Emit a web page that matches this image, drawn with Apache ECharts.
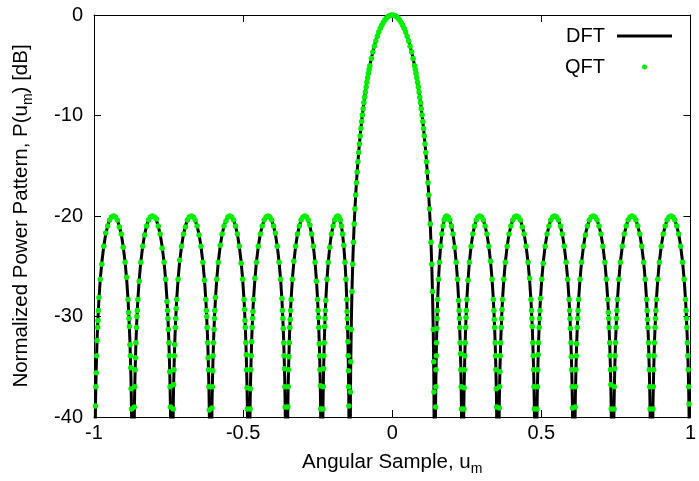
<!DOCTYPE html>
<html>
<head>
<meta charset="utf-8">
<script src="https://cdn.jsdelivr.net/npm/echarts@6/dist/echarts.min.js"></script>
<style>html,body{margin:0;padding:0;background:#fff;}#chart{width:699px;height:481px;}</style>
</head>
<body>
<div id="chart"></div>
<script>
// Angular samples u_m (nulls dip below the -40 dB floor)
const uSample = [
-1.0,
-0.9952,-0.9939,-0.9926,-0.9913,-0.9900,-0.9880,-0.9867,-0.9854,-0.9835,-0.9789,-0.9737,-0.9672,-0.9607,-0.9542,-0.9477,-0.9412,-0.9347,-0.9282,-0.9217,-0.9152,-0.9087,-0.9022,-0.8957,-0.8905,-0.8859,-0.8840,-0.8827,-0.8814,-0.8794,-0.8781,-0.8768,-0.8755,-0.8742,
-0.8693,
-0.8646,-0.8633,-0.8620,-0.8607,-0.8594,-0.8574,-0.8561,-0.8548,-0.8529,-0.8483,-0.8431,-0.8366,-0.8301,-0.8236,-0.8171,-0.8106,-0.8041,-0.7976,-0.7911,-0.7846,-0.7781,-0.7716,-0.7651,-0.7599,-0.7553,-0.7534,-0.7521,-0.7508,-0.7488,-0.7475,-0.7462,-0.7449,-0.7436,
-0.7389,
-0.7344,-0.7331,-0.7318,-0.7305,-0.7292,-0.7272,-0.7259,-0.7246,-0.7227,-0.7181,-0.7129,-0.7064,-0.6999,-0.6934,-0.6869,-0.6804,-0.6739,-0.6674,-0.6609,-0.6544,-0.6479,-0.6414,-0.6349,-0.6297,-0.6251,-0.6232,-0.6219,-0.6206,-0.6186,-0.6173,-0.6160,-0.6147,-0.6134,
-0.6090,
-0.6045,-0.6032,-0.6019,-0.6006,-0.5993,-0.5974,-0.5961,-0.5948,-0.5929,-0.5884,-0.5832,-0.5768,-0.5703,-0.5639,-0.5574,-0.5510,-0.5445,-0.5382,-0.5318,-0.5255,-0.5192,-0.5128,-0.5065,-0.5015,-0.4970,-0.4951,-0.4939,-0.4926,-0.4907,-0.4894,-0.4882,-0.4869,-0.4856,
-0.4812,
-0.4767,-0.4754,-0.4741,-0.4728,-0.4715,-0.4696,-0.4683,-0.4670,-0.4651,-0.4605,-0.4554,-0.4489,-0.4424,-0.4360,-0.4295,-0.4231,-0.4166,-0.4104,-0.4042,-0.3979,-0.3917,-0.3855,-0.3793,-0.3743,-0.3699,-0.3681,-0.3668,-0.3656,-0.3637,-0.3625,-0.3612,-0.3600,-0.3588,
-0.3544,
-0.3501,-0.3489,-0.3477,-0.3464,-0.3452,-0.3434,-0.3421,-0.3409,-0.3391,-0.3348,-0.3299,-0.3238,-0.3176,-0.3115,-0.3054,-0.2992,-0.2931,-0.2874,-0.2817,-0.2760,-0.2703,-0.2645,-0.2588,-0.2543,-0.2503,-0.2486,-0.2474,-0.2463,-0.2446,-0.2434,-0.2423,-0.2411,-0.2400,
-0.2360,
-0.2322,-0.2312,-0.2301,-0.2290,-0.2279,-0.2263,-0.2253,-0.2242,-0.2226,-0.2188,-0.2145,-0.2092,-0.2038,-0.1984,-0.1930,-0.1877,-0.1823,-0.1783,-0.1743,-0.1704,-0.1664,-0.1624,-0.1584,-0.1552,-0.1524,-0.1513,-0.1505,-0.1497,-0.1485,-0.1477,-0.1469,-0.1461,-0.1453,
-0.1425,
-0.14,-0.139,-0.1375,-0.135,-0.1325,-0.13,-0.1275,-0.125,-0.1225,-0.12,-0.1175,-0.115,-0.1125,-0.11,-0.1075,-0.105,-0.1025,-0.1,-0.0975,-0.095,-0.0925,-0.09,-0.0875,-0.085,-0.0825,-0.08,-0.0775,-0.075,-0.07,-0.065,-0.06,-0.055,-0.05,-0.045,-0.04,-0.035,-0.03,-0.025,-0.02,-0.015,-0.01,-0.005,
0,
0.005,0.01,0.015,0.02,0.025,0.03,0.035,0.04,0.045,0.05,0.055,0.06,0.065,0.07,0.075,0.0775,0.08,0.0825,0.085,0.0875,0.09,0.0925,0.095,0.0975,0.1,0.1025,0.105,0.1075,0.11,0.1125,0.115,0.1175,0.12,0.1225,0.125,0.1275,0.13,0.1325,0.135,0.1375,0.139,0.14,
0.1425,
0.1453,0.1461,0.1469,0.1477,0.1485,0.1497,0.1505,0.1513,0.1524,0.1552,0.1584,0.1624,0.1664,0.1704,0.1743,0.1783,0.1823,0.1877,0.1930,0.1984,0.2038,0.2092,0.2145,0.2188,0.2226,0.2242,0.2253,0.2263,0.2279,0.2290,0.2301,0.2312,0.2322,
0.2360,
0.2400,0.2411,0.2423,0.2434,0.2446,0.2463,0.2474,0.2486,0.2503,0.2543,0.2588,0.2645,0.2703,0.2760,0.2817,0.2874,0.2931,0.2992,0.3054,0.3115,0.3176,0.3238,0.3299,0.3348,0.3391,0.3409,0.3421,0.3434,0.3452,0.3464,0.3477,0.3489,0.3501,
0.3544,
0.3588,0.3600,0.3612,0.3625,0.3637,0.3656,0.3668,0.3681,0.3699,0.3743,0.3793,0.3855,0.3917,0.3979,0.4042,0.4104,0.4166,0.4231,0.4295,0.4360,0.4424,0.4489,0.4554,0.4605,0.4651,0.4670,0.4683,0.4696,0.4715,0.4728,0.4741,0.4754,0.4767,
0.4812,
0.4856,0.4869,0.4882,0.4894,0.4907,0.4926,0.4939,0.4951,0.4970,0.5015,0.5065,0.5128,0.5192,0.5255,0.5318,0.5382,0.5445,0.5510,0.5574,0.5639,0.5703,0.5768,0.5832,0.5884,0.5929,0.5948,0.5961,0.5974,0.5993,0.6006,0.6019,0.6032,0.6045,
0.6090,
0.6134,0.6147,0.6160,0.6173,0.6186,0.6206,0.6219,0.6232,0.6251,0.6297,0.6349,0.6414,0.6479,0.6544,0.6609,0.6674,0.6739,0.6804,0.6869,0.6934,0.6999,0.7064,0.7129,0.7181,0.7227,0.7246,0.7259,0.7272,0.7292,0.7305,0.7318,0.7331,0.7344,
0.7389,
0.7436,0.7449,0.7462,0.7475,0.7488,0.7508,0.7521,0.7534,0.7553,0.7599,0.7651,0.7716,0.7781,0.7846,0.7911,0.7976,0.8041,0.8106,0.8171,0.8236,0.8301,0.8366,0.8431,0.8483,0.8529,0.8548,0.8561,0.8574,0.8594,0.8607,0.8620,0.8633,0.8646,
0.8693,
0.8742,0.8755,0.8768,0.8781,0.8794,0.8814,0.8827,0.8840,0.8859,0.8905,0.8957,0.9022,0.9087,0.9152,0.9217,0.9282,0.9347,0.9412,0.9477,0.9542,0.9607,0.9672,0.9737,0.9789,0.9835,0.9854,0.9867,0.9880,0.9900,0.9913,0.9926,0.9939,0.9952,
1.0
];

// DFT power pattern [dB]
const dftDb = [
-60,
-39.2,-37.0,-35.3,-33.9,-32.6,-31.1,-30.2,-29.4,-28.3,-26.3,-24.6,-23.0,-21.8,-21.0,-20.4,-20.1,-20.0,-20.1,-20.4,-21.0,-21.8,-23.0,-24.6,-26.3,-28.3,-29.4,-30.2,-31.1,-32.6,-33.9,-35.3,-37.0,-39.2,
-60,
-39.2,-37.0,-35.3,-33.9,-32.6,-31.1,-30.2,-29.4,-28.3,-26.3,-24.6,-23.0,-21.8,-21.0,-20.4,-20.1,-20.0,-20.1,-20.4,-21.0,-21.8,-23.0,-24.6,-26.3,-28.3,-29.4,-30.2,-31.1,-32.6,-33.9,-35.3,-37.0,-39.2,
-60,
-39.2,-37.0,-35.3,-33.9,-32.6,-31.1,-30.2,-29.4,-28.3,-26.3,-24.6,-23.0,-21.8,-21.0,-20.4,-20.1,-20.0,-20.1,-20.4,-21.0,-21.8,-23.0,-24.6,-26.3,-28.3,-29.4,-30.2,-31.1,-32.6,-33.9,-35.3,-37.0,-39.2,
-60,
-39.2,-37.0,-35.3,-33.9,-32.6,-31.1,-30.2,-29.4,-28.3,-26.3,-24.6,-23.0,-21.8,-21.0,-20.4,-20.1,-20.0,-20.1,-20.4,-21.0,-21.8,-23.0,-24.6,-26.3,-28.3,-29.4,-30.2,-31.1,-32.6,-33.9,-35.3,-37.0,-39.2,
-60,
-39.2,-37.0,-35.3,-33.9,-32.6,-31.1,-30.2,-29.4,-28.3,-26.3,-24.6,-23.0,-21.8,-21.0,-20.4,-20.1,-20.0,-20.1,-20.4,-21.0,-21.8,-23.0,-24.6,-26.3,-28.3,-29.4,-30.2,-31.1,-32.6,-33.9,-35.3,-37.0,-39.2,
-60,
-39.2,-37.0,-35.3,-33.9,-32.6,-31.1,-30.2,-29.4,-28.3,-26.3,-24.6,-23.0,-21.8,-21.0,-20.4,-20.1,-20.0,-20.1,-20.4,-21.0,-21.8,-23.0,-24.6,-26.3,-28.3,-29.4,-30.2,-31.1,-32.6,-33.9,-35.3,-37.0,-39.2,
-60,
-39.2,-37.0,-35.3,-33.9,-32.6,-31.1,-30.2,-29.4,-28.3,-26.3,-24.6,-23.0,-21.8,-21.0,-20.4,-20.1,-20.0,-20.1,-20.4,-21.0,-21.8,-23.0,-24.6,-26.3,-28.3,-29.4,-30.2,-31.1,-32.6,-33.9,-35.3,-37.0,-39.2,
-60,
-37.5,-34.5,-31.3,-27.5,-24.8,-22.6,-20.8,-19.3,-17.9,-16.7,-15.61,-14.61,-13.68,-12.83,-12.03,-11.29,-10.59,-9.94,-9.32,-8.74,-8.19,-7.66,-7.17,-6.70,-6.25,-5.83,-5.43,-5.04,-4.33,-3.69,-3.10,-2.58,-2.11,-1.70,-1.33,-1.02,-0.74,-0.51,-0.33,-0.18,-0.08,-0.02,
0,
-0.02,-0.08,-0.18,-0.33,-0.51,-0.74,-1.02,-1.33,-1.70,-2.11,-2.58,-3.10,-3.69,-4.33,-5.04,-5.43,-5.83,-6.25,-6.70,-7.17,-7.66,-8.19,-8.74,-9.32,-9.94,-10.59,-11.29,-12.03,-12.83,-13.68,-14.61,-15.61,-16.7,-17.9,-19.3,-20.8,-22.6,-24.8,-27.5,-31.3,-34.5,-37.5,
-60,
-39.2,-37.0,-35.3,-33.9,-32.6,-31.1,-30.2,-29.4,-28.3,-26.3,-24.6,-23.0,-21.8,-21.0,-20.4,-20.1,-20.0,-20.1,-20.4,-21.0,-21.8,-23.0,-24.6,-26.3,-28.3,-29.4,-30.2,-31.1,-32.6,-33.9,-35.3,-37.0,-39.2,
-60,
-39.2,-37.0,-35.3,-33.9,-32.6,-31.1,-30.2,-29.4,-28.3,-26.3,-24.6,-23.0,-21.8,-21.0,-20.4,-20.1,-20.0,-20.1,-20.4,-21.0,-21.8,-23.0,-24.6,-26.3,-28.3,-29.4,-30.2,-31.1,-32.6,-33.9,-35.3,-37.0,-39.2,
-60,
-39.2,-37.0,-35.3,-33.9,-32.6,-31.1,-30.2,-29.4,-28.3,-26.3,-24.6,-23.0,-21.8,-21.0,-20.4,-20.1,-20.0,-20.1,-20.4,-21.0,-21.8,-23.0,-24.6,-26.3,-28.3,-29.4,-30.2,-31.1,-32.6,-33.9,-35.3,-37.0,-39.2,
-60,
-39.2,-37.0,-35.3,-33.9,-32.6,-31.1,-30.2,-29.4,-28.3,-26.3,-24.6,-23.0,-21.8,-21.0,-20.4,-20.1,-20.0,-20.1,-20.4,-21.0,-21.8,-23.0,-24.6,-26.3,-28.3,-29.4,-30.2,-31.1,-32.6,-33.9,-35.3,-37.0,-39.2,
-60,
-39.2,-37.0,-35.3,-33.9,-32.6,-31.1,-30.2,-29.4,-28.3,-26.3,-24.6,-23.0,-21.8,-21.0,-20.4,-20.1,-20.0,-20.1,-20.4,-21.0,-21.8,-23.0,-24.6,-26.3,-28.3,-29.4,-30.2,-31.1,-32.6,-33.9,-35.3,-37.0,-39.2,
-60,
-39.2,-37.0,-35.3,-33.9,-32.6,-31.1,-30.2,-29.4,-28.3,-26.3,-24.6,-23.0,-21.8,-21.0,-20.4,-20.1,-20.0,-20.1,-20.4,-21.0,-21.8,-23.0,-24.6,-26.3,-28.3,-29.4,-30.2,-31.1,-32.6,-33.9,-35.3,-37.0,-39.2,
-60,
-39.2,-37.0,-35.3,-33.9,-32.6,-31.1,-30.2,-29.4,-28.3,-26.3,-24.6,-23.0,-21.8,-21.0,-20.4,-20.1,-20.0,-20.1,-20.4,-21.0,-21.8,-23.0,-24.6,-26.3,-28.3,-29.4,-30.2,-31.1,-32.6,-33.9,-35.3,-37.0,-39.2,
-60
];

// QFT samples [dB] (dots; small scatter around the DFT curve)
const qftDb = [
-60,
-38.9,-37.0,-35.6,-33.9,-32.4,-31.1,-30.4,-29.4,-28.1,-26.3,-24.8,-23.0,-21.7,-21.0,-20.4,-20.1,-20.0,-20.1,-20.4,-21.1,-21.8,-23.1,-24.6,-26.1,-28.3,-29.6,-30.2,-31.0,-32.8,-33.9,-35.1,-37.2,-39.2,
-60,
-39.0,-37.0,-35.3,-34.1,-32.6,-31.1,-30.0,-29.4,-28.3,-26.5,-24.6,-23.0,-21.9,-21.0,-20.4,-20.1,-20.0,-20.1,-20.3,-21.0,-21.8,-23.2,-24.6,-26.3,-28.5,-29.4,-30.2,-31.3,-32.6,-33.9,-35.5,-37.0,-39.0,
-60,
-39.2,-36.8,-35.3,-33.9,-32.8,-31.1,-30.2,-29.2,-28.3,-26.3,-24.4,-23.0,-21.8,-21.1,-20.4,-20.1,-20.0,-20.1,-20.4,-21.0,-21.9,-23.0,-24.6,-26.4,-28.3,-29.4,-30.0,-31.1,-32.6,-34.1,-35.3,-37.0,-39.3,
-60,
-39.1,-37.0,-35.4,-33.9,-32.6,-31.3,-30.2,-29.4,-28.1,-26.3,-24.6,-22.9,-21.8,-21.0,-20.5,-20.1,-20.0,-20.1,-20.4,-21.0,-21.8,-23.0,-24.7,-26.3,-28.3,-29.3,-30.4,-31.1,-32.6,-33.8,-35.3,-37.1,-39.2,
-60,
-39.2,-37.2,-35.3,-33.9,-32.5,-31.1,-30.2,-29.5,-28.3,-26.2,-24.6,-23.0,-21.8,-21.0,-20.4,-20.1,-20.0,-20.1,-20.4,-21.0,-21.7,-23.0,-24.6,-26.3,-28.2,-29.4,-30.2,-31.2,-32.6,-33.9,-35.2,-37.0,-39.0,
-60,
-39.0,-37.0,-35.3,-34.0,-32.6,-31.1,-30.3,-29.4,-28.3,-26.3,-24.5,-23.0,-21.8,-21.0,-20.4,-20.1,-20.0,-20.1,-20.4,-20.9,-21.8,-23.0,-24.6,-26.5,-28.3,-29.4,-30.1,-31.1,-32.7,-33.9,-35.3,-36.9,-39.2,
-60,
-39.2,-37.0,-35.2,-33.9,-32.6,-31.0,-30.2,-29.4,-28.4,-26.3,-24.6,-23.1,-21.8,-21.0,-20.4,-20.1,-20.0,-20.1,-20.4,-21.0,-21.8,-22.9,-24.6,-26.3,-28.3,-29.5,-30.2,-31.1,-32.5,-33.9,-35.4,-37.0,-38.9,
-60,
-37.5,-34.5,-31.3,-27.5,-24.8,-22.6,-20.8,-19.3,-17.9,-16.7,-15.61,-14.61,-13.68,-12.83,-12.03,-11.29,-10.59,-9.94,-9.32,-8.74,-8.19,-7.66,-7.17,-6.70,-6.25,-5.83,-5.43,-5.04,-4.33,-3.69,-3.10,-2.58,-2.11,-1.70,-1.33,-1.02,-0.74,-0.51,-0.33,-0.18,-0.08,-0.02,
0,
-0.02,-0.08,-0.18,-0.33,-0.51,-0.74,-1.02,-1.33,-1.70,-2.11,-2.58,-3.10,-3.69,-4.33,-5.04,-5.43,-5.83,-6.25,-6.70,-7.17,-7.66,-8.19,-8.74,-9.32,-9.94,-10.59,-11.29,-12.03,-12.83,-13.68,-14.61,-15.61,-16.7,-17.9,-19.3,-20.8,-22.6,-24.8,-27.5,-31.3,-34.5,-37.5,
-60,
-39.0,-37.0,-35.3,-33.9,-32.6,-31.2,-30.2,-29.4,-28.3,-26.3,-24.6,-23.0,-21.8,-21.0,-20.4,-20.1,-20.0,-20.1,-20.4,-21.0,-21.8,-23.1,-24.6,-26.3,-28.4,-29.4,-30.2,-31.1,-32.6,-33.7,-35.3,-37.0,-39.2,
-60,
-39.2,-37.1,-35.3,-33.9,-32.6,-31.1,-30.1,-29.4,-28.3,-26.4,-24.6,-23.0,-21.8,-21.0,-20.4,-20.1,-20.0,-20.1,-20.4,-21.0,-21.8,-23.0,-24.5,-26.3,-28.3,-29.4,-30.3,-31.1,-32.6,-33.9,-35.3,-37.2,-39.0,
-60,
-39.1,-37.0,-35.5,-33.9,-32.6,-31.1,-30.2,-29.3,-28.3,-26.3,-24.6,-23.0,-21.8,-21.0,-20.4,-20.1,-20.0,-20.1,-20.4,-21.1,-21.8,-23.0,-24.6,-26.2,-28.3,-29.4,-30.2,-31.0,-32.6,-33.9,-35.3,-37.0,-39.2,
-60,
-39.2,-37.0,-35.3,-33.8,-32.6,-31.1,-30.2,-29.4,-28.2,-26.3,-24.7,-23.0,-21.8,-21.0,-20.4,-20.1,-20.0,-20.1,-20.4,-21.0,-21.8,-23.0,-24.6,-26.3,-28.3,-29.4,-30.2,-31.2,-32.6,-34.0,-35.3,-37.0,-39.1,
-60,
-39.0,-37.0,-35.3,-33.9,-32.7,-31.1,-30.2,-29.4,-28.3,-26.3,-24.6,-23.0,-21.9,-21.0,-20.4,-20.1,-20.0,-20.1,-20.4,-21.0,-21.8,-23.0,-24.6,-26.3,-28.3,-29.6,-30.2,-31.1,-32.6,-33.9,-35.3,-36.8,-39.2,
-60,
-39.2,-37.0,-35.2,-33.9,-32.6,-31.1,-30.2,-29.4,-28.3,-26.3,-24.6,-23.0,-21.8,-21.0,-20.4,-20.1,-20.0,-20.1,-20.4,-21.0,-21.8,-23.0,-24.6,-26.3,-28.3,-29.4,-30.3,-31.1,-32.6,-33.9,-35.3,-37.0,-39.2,
-60,
-39.2,-37.0,-35.3,-33.9,-32.6,-31.1,-30.2,-29.4,-28.3,-26.3,-24.6,-23.0,-21.8,-21.0,-20.4,-20.1,-20.0,-20.1,-20.4,-21.0,-21.8,-23.0,-24.6,-26.3,-28.3,-29.4,-30.2,-31.1,-32.6,-33.9,-35.3,-37.0,-38.7,
-60
];

const xTicks = [-1, -0.5, 0, 0.5, 1];
const yTicks = [-40, -30, -20, -10, 0];
const seriesNames = ['DFT', 'QFT'];

const FONT = "'Liberation Sans', Arial, Helvetica, sans-serif";
const dftPoints = uSample.map((u, i) => [u, dftDb[i]]);
const qftPoints = uSample.map((u, i) => [u, qftDb[i]]);

const chart = echarts.init(document.getElementById('chart'), null, {renderer: 'canvas'});

const tickStyle = {inside: true, length: 7, lineStyle: {color: '#000', width: 1}};
const lineStyle = {show: true, onZero: false, lineStyle: {color: '#000', width: 1}};
const subRich = {sub: {fontSize: 14, fontFamily: FONT, color: '#000', verticalAlign: 'bottom', lineHeight: 14}};

chart.setOption({
  animation: false,
  backgroundColor: '#fff',
  grid: {left: 93, right: 3, top: 15, bottom: 56, containLabel: false},
  legend: {
    orient: 'vertical', right: 27, top: 26, align: 'right', padding: 0,
    itemWidth: 55, itemHeight: 5, itemGap: 11, symbolKeepAspect: true,
    textStyle: {fontSize: 20, fontFamily: FONT, color: '#000', lineHeight: 20, padding: [0, 7, 0, 0]},
    data: [
      {name: seriesNames[0], icon: 'path://M0,0H55V3H0Z', itemStyle: {color: '#000'}},
      {name: seriesNames[1], icon: 'circle', itemStyle: {color: '#00ee00'}}
    ]
  },
  xAxis: [
    {
      type: 'value', position: 'bottom', min: xTicks[0], max: xTicks[xTicks.length - 1], interval: 0.5,
      axisLine: lineStyle, axisTick: tickStyle, splitLine: {show: false},
      axisLabel: {fontSize: 20, fontFamily: FONT, color: '#000', margin: 6,
        formatter: v => String(v)},
      name: 'Angular Sample, u{sub|m}', nameLocation: 'middle', nameGap: 32,
      nameTextStyle: {fontSize: 20.5, fontFamily: FONT, color: '#000', lineHeight: 27, rich: subRich}
    },
    {
      type: 'value', position: 'top', min: xTicks[0], max: xTicks[xTicks.length - 1], interval: 0.5,
      axisLine: lineStyle, axisTick: tickStyle, splitLine: {show: false}, axisLabel: {show: false}
    }
  ],
  yAxis: [
    {
      type: 'value', position: 'left', min: yTicks[0], max: yTicks[yTicks.length - 1], interval: 10,
      axisLine: lineStyle, axisTick: tickStyle, splitLine: {show: false},
      axisLabel: {fontSize: 20, fontFamily: FONT, color: '#000', margin: 11},
      name: 'Normalized Power Pattern, P(u{sub|m}) [dB]', nameLocation: 'middle', nameGap: 59,
      nameTextStyle: {fontSize: 20.5, fontFamily: FONT, color: '#000', lineHeight: 27, rich: subRich}
    },
    {
      type: 'value', position: 'right', min: yTicks[0], max: yTicks[yTicks.length - 1], interval: 10,
      axisLine: lineStyle, axisTick: tickStyle, splitLine: {show: false}, axisLabel: {show: false}
    }
  ],
  series: [
    {
      name: seriesNames[0], type: 'line', xAxisIndex: 0, yAxisIndex: 0,
      data: dftPoints, showSymbol: false, symbol: 'none', clip: true,
      lineStyle: {color: '#000', width: 3}, itemStyle: {color: '#000'}, z: 2
    },
    {
      name: seriesNames[1], type: 'scatter', xAxisIndex: 0, yAxisIndex: 0,
      data: qftPoints, symbol: 'circle', symbolSize: 5.5, clip: true,
      itemStyle: {color: '#00ee00', opacity: 1}, z: 3
    }
  ]
});
</script>
</body>
</html>
